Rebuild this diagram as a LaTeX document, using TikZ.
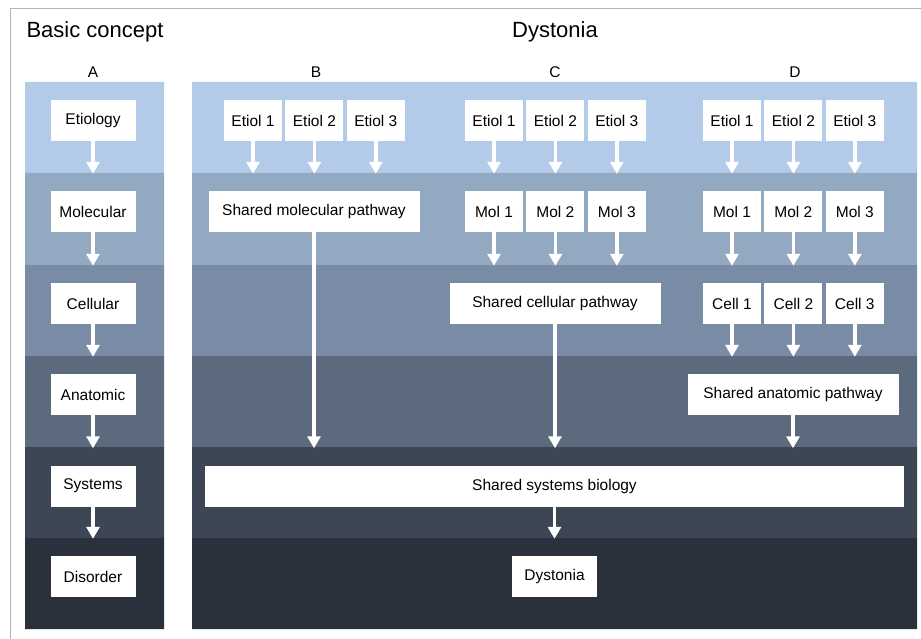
\documentclass[tikz,border=0pt]{standalone}
\usepackage{fontspec}
\setmainfont{Liberation Sans}
\usetikzlibrary{arrows.meta, positioning}

\definecolor{bandone}{HTML}{B3CBE8}
\definecolor{bandtwo}{HTML}{93A8C1}
\definecolor{bandthree}{HTML}{7A8CA5}
\definecolor{bandfour}{HTML}{5B6A7D}
\definecolor{bandfive}{HTML}{3D4654}
\definecolor{bandsix}{HTML}{2A303C}
\definecolor{framegray}{HTML}{B4B4B4}

\tikzstyle{box} = [
  rectangle,
  fill=white,
  minimum width=85pt,
  minimum height=41pt,
  inner sep=0pt,
  text centered,
  font=\fontsize{15.5}{18}\selectfont
]
\tikzstyle{smallbox} = [box, minimum width=58pt]
\tikzstyle{widebox} = [box, minimum width=211pt]
\tikzstyle{title} = [font=\fontsize{22}{26}\selectfont]
\tikzstyle{letter} = [font=\fontsize{15.5}{18}\selectfont]
\tikzstyle{arrow} = [white, line width=3.6pt, -{Triangle[width=13pt,length=12pt]}, shorten >=17pt]

\begin{document}
\begin{tikzpicture}[x=1pt, y=-1pt, node distance=3pt]
    \useasboundingbox (0,0) rectangle (921,639);

    % Outer frame
    \draw [framegray, line width=1pt] (10,639) -- (10,9) -- (921,9);

    % Level bands
    \fill [bandone]   (25,82)  rectangle (164,173) (192,82)  rectangle (917,173);
    \fill [bandtwo]   (25,173) rectangle (164,265) (192,173) rectangle (917,265);
    \fill [bandthree] (25,265) rectangle (164,356) (192,265) rectangle (917,356);
    \fill [bandfour]  (25,356) rectangle (164,447) (192,356) rectangle (917,447);
    \fill [bandfive]  (25,447) rectangle (164,538) (192,447) rectangle (917,538);
    \fill [bandsix]   (25,538) rectangle (164,629) (192,538) rectangle (917,629);

    % Titles
    \node (basic) [title, anchor=west] at (23,32) {Basic concept};
    \node (dyst) [title] at (555,32) {Dystonia};
    \node (labA) [letter] at (93,72) {A};
    \node (labB) [letter] at (316,72) {B};
    \node (labC) [letter] at (555,72) {C};
    \node (labD) [letter] at (795,72) {D};

    % Column A
    \node (etiology) [box] at (93,120.5) {Etiology};
    \node (molecular) [box] at (93,211.5) {Molecular};
    \node (cellular) [box] at (93,303.5) {Cellular};
    \node (anatomic) [box] at (93,394.5) {Anatomic};
    \node (systems) [box] at (93,486) {Systems};
    \node (disorder) [box] at (93,576.5) {Disorder};

    % Column B
    \node (etiolB1) [smallbox] at (253,120.5) {Etiol 1};
    \node (etiolB2) [smallbox, right=of etiolB1] {Etiol 2};
    \node (etiolB3) [smallbox, right=of etiolB2] {Etiol 3};
    \node (sharedmol) [widebox] at (314,211.5) {Shared molecular pathway};

    % Column C
    \node (etiolC1) [smallbox] at (494,120.5) {Etiol 1};
    \node (etiolC2) [smallbox, right=of etiolC1] {Etiol 2};
    \node (etiolC3) [smallbox, right=of etiolC2] {Etiol 3};
    \node (molC1) [smallbox] at (494,211.5) {Mol 1};
    \node (molC2) [smallbox, right=of molC1] {Mol 2};
    \node (molC3) [smallbox, right=of molC2] {Mol 3};
    \node (sharedcell) [widebox] at (555,303.5) {Shared cellular pathway};

    % Column D
    \node (etiolD1) [smallbox] at (732,120.5) {Etiol 1};
    \node (etiolD2) [smallbox, right=of etiolD1] {Etiol 2};
    \node (etiolD3) [smallbox, right=of etiolD2] {Etiol 3};
    \node (molD1) [smallbox] at (732,211.5) {Mol 1};
    \node (molD2) [smallbox, right=of molD1] {Mol 2};
    \node (molD3) [smallbox, right=of molD2] {Mol 3};
    \node (cellD1) [smallbox] at (732,303.5) {Cell 1};
    \node (cellD2) [smallbox, right=of cellD1] {Cell 2};
    \node (cellD3) [smallbox, right=of cellD2] {Cell 3};
    \node (sharedanat) [widebox] at (793,394.5) {Shared anatomic pathway};

    % Shared bottom blocks
    \node (systemsbio) [box, minimum width=699pt] at (554.5,486) {Shared systems biology};
    \node (dystonia) [box] at (554.5,576.5) {Dystonia};

    % Arrows in column A
    \draw [arrow] (etiology) -- (molecular);
    \draw [arrow] (molecular) -- (cellular);
    \draw [arrow] (cellular) -- (anatomic);
    \draw [arrow] (anatomic) -- (systems);
    \draw [arrow] (systems) -- (disorder);

    % Arrows in column B
    \draw [arrow] (etiolB1) -- (etiolB1 |- sharedmol.north);
    \draw [arrow] (etiolB2) -- (etiolB2 |- sharedmol.north);
    \draw [arrow] (etiolB3) -- (etiolB3 |- sharedmol.north);
    \draw [arrow] (sharedmol) -- (sharedmol |- systemsbio.north);

    % Arrows in column C
    \draw [arrow] (etiolC1) -- (molC1);
    \draw [arrow] (etiolC2) -- (molC2);
    \draw [arrow] (etiolC3) -- (molC3);
    \draw [arrow] (molC1) -- (molC1 |- sharedcell.north);
    \draw [arrow] (molC2) -- (molC2 |- sharedcell.north);
    \draw [arrow] (molC3) -- (molC3 |- sharedcell.north);
    \draw [arrow] (sharedcell) -- (sharedcell |- systemsbio.north);

    % Arrows in column D
    \draw [arrow] (etiolD1) -- (molD1);
    \draw [arrow] (etiolD2) -- (molD2);
    \draw [arrow] (etiolD3) -- (molD3);
    \draw [arrow] (molD1) -- (cellD1);
    \draw [arrow] (molD2) -- (cellD2);
    \draw [arrow] (molD3) -- (cellD3);
    \draw [arrow] (cellD1) -- (cellD1 |- sharedanat.north);
    \draw [arrow] (cellD2) -- (cellD2 |- sharedanat.north);
    \draw [arrow] (cellD3) -- (cellD3 |- sharedanat.north);
    \draw [arrow] (sharedanat) -- (sharedanat |- systemsbio.north);

    % Final step
    \draw [arrow] (systemsbio) -- (dystonia);

\end{tikzpicture}
\end{document}
